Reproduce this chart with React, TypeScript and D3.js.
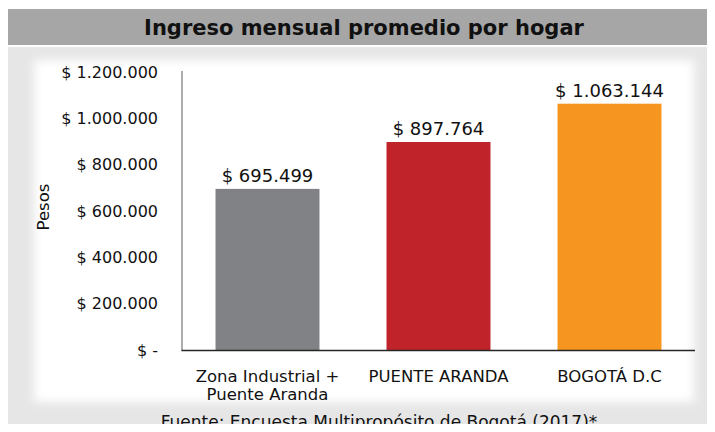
import { useEffect, useRef } from "react";
import * as d3 from "d3";

const categories = ["Zona Industrial +\nPuente Aranda", "PUENTE ARANDA", "BOGOTÁ D.C"];
const values = [695499, 897764, 1063144];
const barColors = ["#808285", "#c1232a", "#f6951f"];
const yTicks = [0, 200000, 400000, 600000, 800000, 1000000, 1200000];

const title = "Ingreso mensual promedio por hogar";
const source = "Fuente: Encuesta Multipropósito de Bogotá (2017)*";
const prevSource = "Fuente: Encuesta Multipropósito de Bogotá (2017)";
const yLabel = "Pesos";

const W = 715;
const H = 432;
const FONT = "'DejaVu Sans', Verdana, sans-serif";

const locale = d3.formatLocale({
  decimal: ",",
  thousands: ".",
  grouping: [3],
  currency: ["$ ", ""],
});
const fmtNum = locale.format(",d");
const fmtPeso = (v: number) => (v === 0 ? "$ -" : "$ " + fmtNum(v));

export default function App() {
  const ref = useRef<SVGSVGElement>(null);

  useEffect(() => {
    const svg = d3.select(ref.current);
    svg.selectAll("*").remove();

    const defs = svg.append("defs");
    defs
      .append("filter")
      .attr("id", "soft")
      .attr("x", "-10%")
      .attr("y", "-10%")
      .attr("width", "120%")
      .attr("height", "120%")
      .append("feGaussianBlur")
      .attr("stdDeviation", 5);

    // backgrounds
    svg.append("rect").attr("width", W).attr("height", H).attr("fill", "#ffffff");
    svg.append("rect").attr("x", 5).attr("y", 0).attr("width", W - 5).attr("height", 6).attr("fill", "#e6e6e6");
    // tail of the previous chart's source line, cut by the top edge
    svg
      .append("text")
      .attr("x", 560)
      .attr("y", 1)
      .attr("text-anchor", "end")
      .attr("font-family", FONT)
      .attr("font-size", 16)
      .attr("fill", "#111")
      .text(prevSource);
    svg.append("rect").attr("x", 5).attr("y", 9).attr("width", W - 5).attr("height", 36).attr("fill", "#a6a6a6");
    svg.append("rect").attr("x", 5).attr("y", 47).attr("width", W - 5).attr("height", H - 47).attr("fill", "#e6e6e6");
    svg
      .append("rect")
      .attr("x", 34)
      .attr("y", 60)
      .attr("width", 660)
      .attr("height", 342)
      .attr("fill", "#ffffff")
      .attr("filter", "url(#soft)");

    svg
      .append("text")
      .attr("x", 364)
      .attr("y", 35)
      .attr("text-anchor", "middle")
      .attr("font-family", FONT)
      .attr("font-weight", "bold")
      .attr("font-size", 21)
      .attr("fill", "#111")
      .text(title);

    const x = d3.scaleBand<string>().domain(categories).range([182, 695]).paddingInner(0.392).paddingOuter(0.196);
    const y = d3.scaleLinear().domain([0, 1200000]).range([350, 72]);

    // y axis labels
    const yAxis = svg
      .append("g")
      .attr("transform", "translate(182,0)")
      .call(d3.axisLeft(y).tickValues(yTicks).tickSize(0).tickPadding(24).tickFormat((d) => fmtPeso(d as number)));
    yAxis.select(".domain").remove();
    yAxis
      .selectAll(".tick text")
      .attr("font-family", FONT)
      .attr("font-size", 16)
      .attr("fill", "#111");

    svg
      .append("text")
      .attr("transform", `translate(49, 207) rotate(-90)`)
      .attr("text-anchor", "middle")
      .attr("font-family", FONT)
      .attr("font-size", 16.5)
      .attr("fill", "#111")
      .text(yLabel);

    // bars
    svg
      .selectAll("rect.bar")
      .data(values)
      .join("rect")
      .attr("class", "bar")
      .attr("x", (d, i) => x(categories[i]) as number)
      .attr("y", (d) => y(d))
      .attr("width", x.bandwidth())
      .attr("height", (d) => y(0) - y(d))
      .attr("fill", (d, i) => barColors[i]);

    svg
      .selectAll("text.val")
      .data(values)
      .join("text")
      .attr("class", "val")
      .attr("x", (d, i) => (x(categories[i]) as number) + x.bandwidth() / 2)
      .attr("y", (d) => y(d) - 7)
      .attr("text-anchor", "middle")
      .attr("font-family", FONT)
      .attr("font-size", 18)
      .attr("fill", "#111")
      .text((d) => fmtPeso(d));

    // axis lines
    svg.append("line").attr("x1", 182).attr("x2", 182).attr("y1", 71).attr("y2", 350.5).attr("stroke", "#808080").attr("stroke-width", 1.3);
    svg.append("line").attr("x1", 181.5).attr("x2", 695).attr("y1", 350.5).attr("y2", 350.5).attr("stroke", "#262626").attr("stroke-width", 1.3);

    // category labels
    categories.forEach((c) => {
      const t = svg
        .append("text")
        .attr("x", (x(c) as number) + x.bandwidth() / 2)
        .attr("y", 382)
        .attr("text-anchor", "middle")
        .attr("font-family", FONT)
        .attr("font-size", 16.5)
        .attr("fill", "#111");
      c.split("\n").forEach((line, i) => {
        t.append("tspan")
          .attr("x", (x(c) as number) + x.bandwidth() / 2)
          .attr("dy", i === 0 ? 0 : 18)
          .text(line);
      });
    });

    svg
      .append("text")
      .attr("x", 379)
      .attr("y", 428)
      .attr("text-anchor", "middle")
      .attr("font-family", FONT)
      .attr("font-size", 17)
      .attr("fill", "#111")
      .text(source);
  }, []);

  return (
    <div style={{ margin: -8 }}>
      <svg ref={ref} width={W} height={H} style={{ display: "block" }} />
    </div>
  );
}
